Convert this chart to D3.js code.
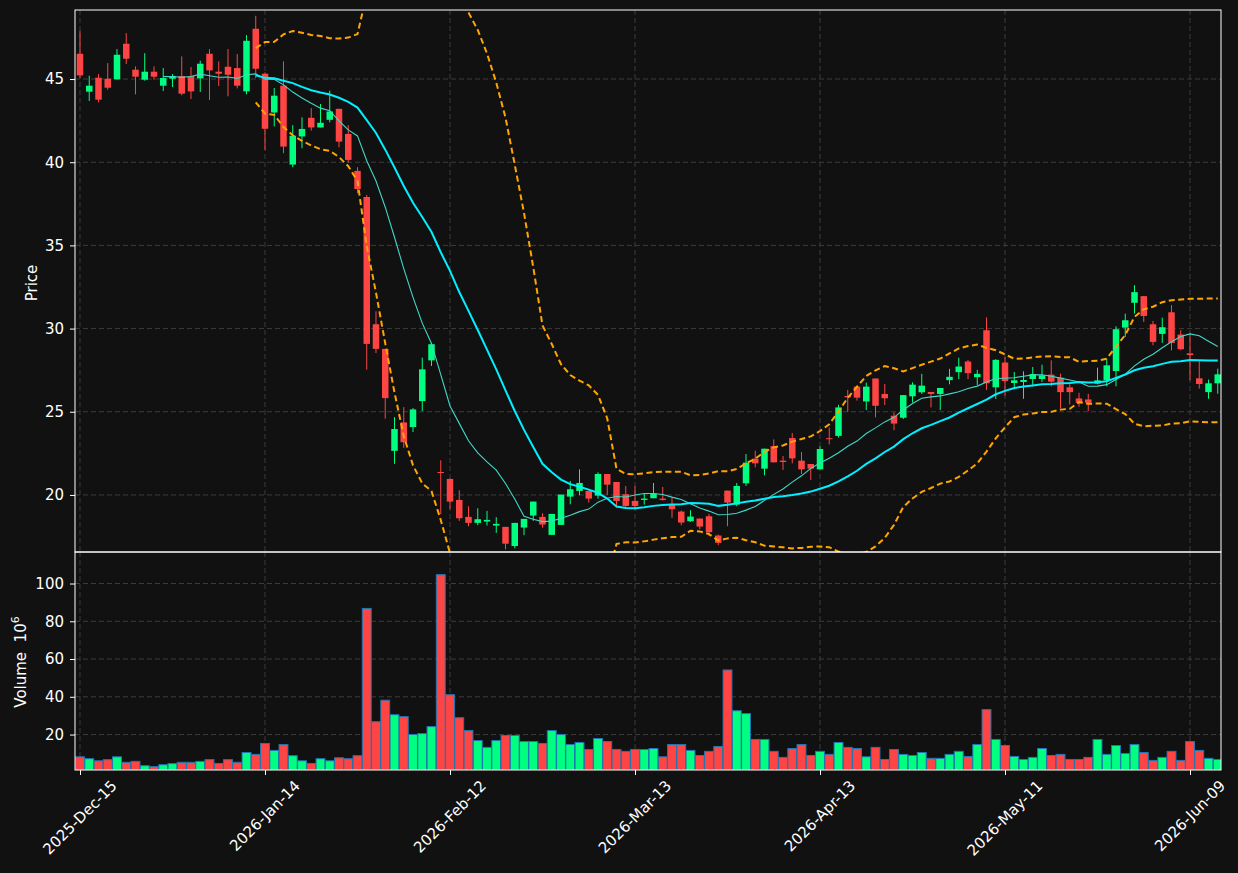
<!DOCTYPE html>
<html>
<head>
<meta charset="utf-8">
<script src="https://cdn.jsdelivr.net/npm/d3@7"></script>
<style>
html,body{margin:0;padding:0;background:#111111;}
svg{display:block;}
text{font-family:"DejaVu Sans",sans-serif;fill:#ffffff;}
</style>
</head>
<body>
<svg id="chart" width="1238" height="873"></svg>
<script>
// ---------- data ----------
const opens = [46.52,44.24,45.08,45.02,44.98,47.12,45.56,44.96,45.44,44.6,
45.02,45.18,45.18,45.04,46.52,45.44,45.74,45.66,44.26,48.02,
45.32,42.99,44.6,39.86,41.55,42.67,42.09,42.55,43.21,41.7,
39.48,37.91,30.26,28.78,22.65,24.36,24.08,25.64,28.09,21.38,
20.96,19.7,18.68,18.32,18.4,18.16,18.08,16.93,18.04,18.76,
18.68,17.6,18.2,19.9,20.24,20.24,19.96,21.26,20.78,20.04,
19.64,19.7,19.8,19.78,19.46,19.0,18.42,18.58,18.72,17.56,
20.26,19.42,20.7,22.18,21.58,22.94,22.06,23.42,22.06,21.86,
21.54,23.41,23.55,25.95,26.51,25.62,27.0,26.07,24.76,24.64,
25.93,26.17,26.19,26.07,26.9,27.38,28.02,27.08,29.9,26.47,
27.96,26.73,26.79,26.97,26.97,27.23,27.05,26.47,25.8,25.74,
26.69,26.89,27.45,30.06,31.55,31.95,30.26,29.68,30.98,29.64,
28.51,27.01,26.18,26.71];
const highs = [47.9,45.2,45.3,45.96,46.8,47.76,45.76,46.56,45.76,45.66,
45.3,46.36,45.72,46.1,46.8,46.06,46.8,46.5,47.64,48.8,
45.4,44.46,46.06,42.23,42.7,43.25,43.5,44.3,43.21,42.23,
39.7,38.03,31.04,28.78,24.68,25.28,25.22,28.25,29.06,22.08,
21.0,20.28,19.32,19.2,19.04,18.66,18.08,18.32,18.56,19.6,
18.9,18.86,20.02,20.84,21.54,20.24,21.36,21.26,20.78,20.54,
20.54,20.1,20.72,20.48,19.86,19.06,19.08,18.58,18.86,17.62,
20.26,20.72,22.46,22.66,22.78,23.34,22.34,23.72,22.58,21.86,
22.92,24.05,25.42,26.31,26.51,26.75,27.0,26.67,24.96,26.0,
26.77,27.28,26.19,26.43,27.58,28.25,28.12,27.52,30.67,28.16,
28.29,27.39,27.43,27.69,27.83,28.09,27.29,26.69,26.14,26.08,
27.65,28.19,30.14,30.9,32.61,31.95,30.46,30.66,31.41,29.9,
29.7,28.09,26.93,27.59];
const lows = [45.06,43.68,43.6,44.36,44.98,45.9,44.08,44.9,44.96,44.28,
44.52,44.02,43.8,44.22,43.74,44.58,43.96,44.44,44.08,45.06,
40.74,42.15,40.54,39.7,40.84,41.9,42.09,42.4,40.9,39.98,
38.13,27.53,28.53,24.58,21.87,22.83,23.78,25.04,27.75,18.84,
19.14,18.44,18.12,18.18,18.16,17.72,16.73,16.79,17.58,18.44,
18.04,17.6,18.2,19.44,19.98,19.54,19.78,20.0,19.24,19.28,
19.14,19.42,19.8,19.66,18.62,18.18,18.38,17.94,17.56,16.98,
18.12,19.32,20.54,21.66,21.18,21.96,21.5,21.9,21.26,20.9,
21.54,23.04,23.45,25.0,25.67,25.1,24.66,25.4,23.89,24.56,
25.56,26.07,25.26,25.1,26.65,26.96,26.96,26.61,26.31,25.77,
25.97,26.35,25.78,26.53,26.79,26.53,25.2,25.44,25.3,25.04,
26.65,26.53,26.53,29.5,30.9,30.4,29.0,29.14,28.69,28.69,
26.89,26.39,25.78,26.08];
const closes = [45.22,44.6,43.76,44.48,46.46,46.22,45.14,45.44,45.14,45.06,
45.18,44.12,44.26,45.92,45.52,45.32,45.26,44.6,47.3,45.62,
42.01,44.0,40.94,41.59,42.0,42.09,42.37,43.05,41.24,40.14,
38.39,29.08,28.78,25.82,23.96,23.17,25.14,27.55,29.06,21.34,
19.6,18.6,18.32,18.54,18.5,18.26,17.07,18.32,18.56,19.6,
18.22,18.86,20.02,20.34,20.72,19.78,21.26,20.62,19.64,19.34,
19.34,19.78,20.08,19.7,19.14,18.34,18.7,18.1,17.76,17.12,
19.54,20.54,21.94,21.9,22.78,21.96,21.98,22.2,21.54,21.58,
22.76,23.37,25.26,25.87,25.85,26.51,25.36,25.81,24.29,26.0,
26.63,26.57,26.07,26.43,27.1,27.72,27.32,27.28,26.71,28.12,
26.84,26.89,26.91,27.27,27.19,26.81,26.18,26.18,25.54,25.54,
26.89,27.79,29.96,30.5,32.19,30.76,29.2,30.08,29.14,28.76,
28.41,26.67,26.71,27.25];
const volumes = [8.2,7.2,6.1,6.7,8.2,5.3,5.8,3.5,3.0,4.0,
4.6,5.3,5.3,5.8,6.7,4.7,6.7,5.3,10.5,9.5,
15.3,11.6,14.7,8.8,6.1,4.7,7.2,6.1,7.7,7.2,
8.8,86.8,26.8,38.2,30.5,29.5,20.0,20.5,24.2,104.7,
41.1,28.9,22.1,16.8,13.2,16.8,19.5,19.5,16.3,16.3,
15.3,22.1,20.0,14.7,15.8,12.1,17.9,16.3,12.1,11.1,
12.1,12.1,12.6,8.2,14.7,14.7,11.6,8.9,11.1,13.7,
54.2,32.6,31.1,17.4,17.4,11.1,7.9,12.6,14.7,8.9,
11.1,9.5,15.8,13.2,12.6,8.2,13.2,6.8,12.1,9.5,
8.9,10.5,7.4,7.4,9.5,11.1,8.4,14.7,33.2,17.4,
14.2,8.4,6.8,7.9,12.6,8.9,9.5,6.8,6.8,7.9,
17.4,9.5,14.2,10.0,14.7,10.5,6.3,7.9,11.1,6.3,
16.3,11.6,7.4,6.8];
const xTickIndex = [0,20,40,60,80,100,120];
const xTickLabels = ["2025-Dec-15","2026-Jan-14","2026-Feb-12","2026-Mar-13","2026-Apr-13","2026-May-11","2026-Jun-09"];
const priceTicks = [20,25,30,35,40,45];
const volumeTicks = [20,40,60,80,100];
const maPeriods = [10,20];
const bbPeriod = 20, bbStd = 2;

// ---------- indicators from closes ----------
function sma(arr, n){ return arr.map((v,i)=> i<n-1 ? null : d3.mean(arr.slice(i-n+1,i+1))); }
function bands(arr, n, k){
  return arr.map((v,i)=>{
    if(i<n-1) return null;
    const w = arr.slice(i-n+1,i+1), m = d3.mean(w);
    const sd = Math.sqrt(d3.mean(w.map(x=>(x-m)*(x-m))));
    return {up:m+k*sd, lo:m-k*sd};
  });
}
const ma10 = sma(closes, maPeriods[0]);
const ma20 = sma(closes, maPeriods[1]);
const bb = bands(closes, bbPeriod, bbStd);

// ---------- layout ----------
const L=75, R=1221, PT=10, PB=552, VT=552, VB=770;
const svg = d3.select("#chart");
svg.append("rect").attr("width",1238).attr("height",873).attr("fill","#111111");

const x = d3.scaleLinear().domain([-0.54,123.35]).range([L,R]);
const yP = d3.scaleLinear().domain([16.57,49.15]).range([PB,PT]);
const yV = d3.scaleLinear().domain([1.22,116.7]).range([VB,VT]);
const step = x(1)-x(0);

const defs = svg.append("defs");
defs.append("clipPath").attr("id","clipP").append("rect").attr("x",L).attr("y",PT).attr("width",R-L).attr("height",PB-PT);
defs.append("clipPath").attr("id","clipV").append("rect").attr("x",L).attr("y",VT).attr("width",R-L).attr("height",VB-VT);

const gridColor = "#3c3c3c";
const gGrid = svg.append("g").attr("stroke",gridColor).attr("stroke-width",1).attr("stroke-dasharray","5,3");
xTickIndex.forEach(i=>{
  gGrid.append("line").attr("x1",x(i)).attr("x2",x(i)).attr("y1",PT).attr("y2",PB);
  gGrid.append("line").attr("x1",x(i)).attr("x2",x(i)).attr("y1",VT).attr("y2",VB);
});
priceTicks.forEach(t=>gGrid.append("line").attr("x1",L).attr("x2",R).attr("y1",yP(t)).attr("y2",yP(t)));
volumeTicks.forEach(t=>gGrid.append("line").attr("x1",L).attr("x2",R).attr("y1",yV(t)).attr("y2",yV(t)));

const UP="#00ff80", DOWN="#ff4444";
const idx = d3.range(closes.length);

// price panel
const gP = svg.append("g").attr("clip-path","url(#clipP)");
const bw = 6.5;
idx.forEach(i=>{
  const c = closes[i]>=opens[i] ? UP : DOWN;
  gP.append("line").attr("x1",x(i)).attr("x2",x(i)).attr("y1",yP(highs[i])).attr("y2",yP(lows[i]))
    .attr("stroke",c).attr("stroke-width",1);
  const top = yP(Math.max(opens[i],closes[i])), bot = yP(Math.min(opens[i],closes[i]));
  gP.append("rect").attr("x",x(i)-bw/2).attr("width",bw).attr("y",top).attr("height",Math.max(1,bot-top)).attr("fill",c);
});
// bollinger bands
const bbIdx = idx.filter(i=>bb[i]);
const lineUp = d3.line().x(i=>x(i)).y(i=>yP(bb[i].up));
const lineLo = d3.line().x(i=>x(i)).y(i=>yP(bb[i].lo));
gP.append("path").attr("d",lineUp(bbIdx)).attr("fill","none").attr("stroke","#ffa500").attr("stroke-width",2).attr("stroke-dasharray","6,3.5");
gP.append("path").attr("d",lineLo(bbIdx)).attr("fill","none").attr("stroke","#ffa500").attr("stroke-width",2).attr("stroke-dasharray","6,3.5");
// moving averages
const ma10Idx = idx.filter(i=>ma10[i]!==null), ma20Idx = idx.filter(i=>ma20[i]!==null);
gP.append("path").attr("d",d3.line().x(i=>x(i)).y(i=>yP(ma10[i]))(ma10Idx)).attr("fill","none").attr("stroke","#40d8c8").attr("stroke-width",1.1);
gP.append("path").attr("d",d3.line().x(i=>x(i)).y(i=>yP(ma20[i]))(ma20Idx)).attr("fill","none").attr("stroke","#00f0ff").attr("stroke-width",2);

// volume panel
const gV = svg.append("g").attr("clip-path","url(#clipV)");
idx.forEach(i=>{
  const c = closes[i]>=opens[i] ? UP : DOWN;
  gV.append("rect").attr("x",x(i)-step*0.48).attr("width",step*0.96).attr("y",yV(volumes[i])).attr("height",VB+2-yV(volumes[i]))
    .attr("fill",c).attr("stroke","#1f77b4").attr("stroke-width",1);
});

// frames
svg.append("rect").attr("x",L).attr("y",PT).attr("width",R-L).attr("height",PB-PT).attr("fill","none").attr("stroke","#ffffff").attr("stroke-width",1);
svg.append("rect").attr("x",L).attr("y",VT).attr("width",R-L).attr("height",VB-VT).attr("fill","none").attr("stroke","#ffffff").attr("stroke-width",1);

// axes
const fs = 15;
const axP = svg.append("g").attr("transform",`translate(${L},0)`).call(d3.axisLeft(yP).tickValues(priceTicks).tickSize(5).tickPadding(6).tickFormat(d3.format("d")));
const axV = svg.append("g").attr("transform",`translate(${L},0)`).call(d3.axisLeft(yV).tickValues(volumeTicks).tickSize(5).tickPadding(6).tickFormat(d3.format("d")));
[axP,axV].forEach(a=>{
  a.select(".domain").remove();
  a.selectAll("line").attr("stroke","#ffffff");
  a.selectAll("text").attr("fill","#ffffff").style("font-size",fs+"px").style("font-family","DejaVu Sans");
});
const axX = svg.append("g").attr("transform",`translate(0,${VB})`).call(d3.axisBottom(x).tickValues(xTickIndex).tickSize(5).tickFormat(""));
axX.select(".domain").remove();
axX.selectAll("line").attr("stroke","#ffffff");

// rotated x tick labels (centered bounding box)
xTickIndex.forEach((t,k)=>{
  const tx = svg.append("text").text(xTickLabels[k]).style("font-size",fs+"px")
    .attr("text-anchor","middle").attr("dominant-baseline","central");
  const len = tx.node().getComputedTextLength();
  const h = (len + fs*1.0)*Math.SQRT1_2;
  const cx = x(t), cy = VB + 8 + h/2;
  tx.attr("x",cx).attr("y",cy).attr("transform",`rotate(-45,${cx},${cy})`);
});

// y labels
svg.append("text").attr("transform","translate(37,283) rotate(-90)").attr("text-anchor","middle").style("font-size",fs+"px").text("Price");
const vl = svg.append("text").attr("transform","translate(26,662) rotate(-90)").attr("text-anchor","middle").style("font-size",fs+"px").style("white-space","pre");
vl.append("tspan").text("Volume\u00a0\u00a010");
vl.append("tspan").attr("dy",-7).style("font-size","11px").text("6");
</script>
</body>
</html>
